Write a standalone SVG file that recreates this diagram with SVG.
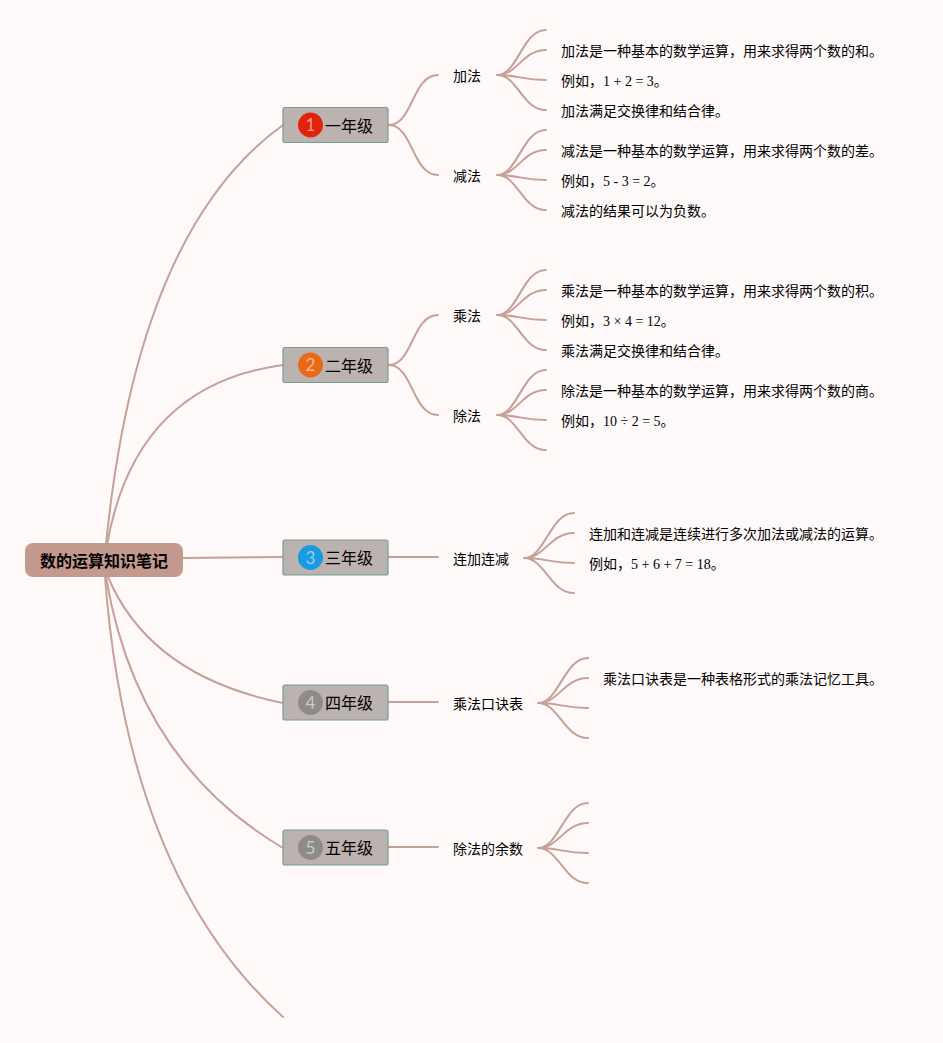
<svg xmlns="http://www.w3.org/2000/svg" width="943" height="1043" viewBox="0 0 943 1043">
<style>
text{font-family:"Liberation Serif","Noto Sans CJK SC",sans-serif;fill:#000}
.t{font-size:14px}
.y{font-size:16px}
.r{font-size:16px;font-weight:700}
.n{font-family:"Lato","Noto Sans",sans-serif;font-size:17px;fill:#fff;fill-opacity:.55;text-anchor:middle}
.b{fill:#bcb2b0;stroke:#6fa096;stroke-width:1.2}
#connectors path{fill:none;stroke:#c6a197;stroke-width:2;stroke-linecap:round}
</style>
<rect width="943" height="1043" fill="#fff9f9"/>
<g id="connectors">
<path d="M106,545Q137,230 283,125"/>
<path d="M107,545Q135,385 283,365"/>
<path d="M183,558L283,557"/>
<path d="M108,577Q150,676 283,703"/>
<path d="M106,577Q137,762 283,848"/>
<path d="M105,577Q128,878 283,1017"/>
<path d="M389,125C413,125 412,75 438,75"/>
<path d="M389,125C413,125 412,175 438,175"/>
<path d="M389,365C413,365 412,315 438,315"/>
<path d="M389,365C413,365 412,415 438,415"/>
<path d="M389,557H438"/>
<path d="M389,702H438"/>
<path d="M389,847H438"/>
<path d="M497,75C518,75 522,30 546,30M497,75C518,75 522,50 546,50M497,75C518,75 522,80 546,80M497,75C518,75 522,110 546,110"/>
<path d="M497,175C518,175 522,130 546,130M497,175C518,175 522,150 546,150M497,175C518,175 522,180 546,180M497,175C518,175 522,210 546,210"/>
<path d="M497,315C518,315 522,270 546,270M497,315C518,315 522,290 546,290M497,315C518,315 522,320 546,320M497,315C518,315 522,350 546,350"/>
<path d="M497,415C518,415 522,370 546,370M497,415C518,415 522,390 546,390M497,415C518,415 522,420 546,420M497,415C518,415 522,450 546,450"/>
<path d="M524,558C545,558 550,513 574,513M524,558C545,558 550,533 574,533M524,558C545,558 550,563 574,563M524,558C545,558 550,593 574,593"/>
<path d="M538,703C559,703 564,658 588,658M538,703C559,703 564,678 588,678M538,703C559,703 564,708 588,708M538,703C559,703 564,738 588,738"/>
<path d="M538,848C559,848 564,803 588,803M538,848C559,848 564,823 588,823M538,848C559,848 564,853 588,853M538,848C559,848 564,883 588,883"/>
</g>
<g id="root"><rect x="25" y="543" width="158" height="34" rx="8" fill="#c49a8e"/><text class="r" x="40" y="567">数的运算知识笔记</text></g>
<g id="g1"><rect class="b" x="283" y="107.500" width="105" height="35" rx="2"/><circle cx="310.500" cy="125" r="12.500" fill="#e2230b"/><text class="n" x="310.500" y="131">1</text><text class="y" x="325" y="132">一年级</text></g>
<g id="g2"><rect class="b" x="283" y="347.500" width="105" height="35" rx="2"/><circle cx="310.500" cy="365" r="12.500" fill="#e96a14"/><text class="n" x="310.500" y="371">2</text><text class="y" x="325" y="372">二年级</text></g>
<g id="g3"><rect class="b" x="283" y="540" width="105" height="35" rx="2"/><circle cx="310.500" cy="557.500" r="12.500" fill="#189be0"/><text class="n" x="310.500" y="563.500">3</text><text class="y" x="325" y="564">三年级</text></g>
<g id="g4"><rect class="b" x="283" y="685" width="105" height="35" rx="2"/><circle cx="310.500" cy="702.500" r="12.500" fill="#8e8c8b"/><text class="n" x="310.500" y="708.500">4</text><text class="y" x="325" y="709">四年级</text></g>
<g id="g5"><rect class="b" x="283" y="830" width="105" height="35" rx="2"/><circle cx="310.500" cy="847.500" r="12.500" fill="#8e8c8b"/><text class="n" x="310.500" y="853.500">5</text><text class="y" x="325" y="854">五年级</text></g>
<g id="add"><text class="t" x="453" y="81">加法</text><text class="t" x="561" y="56">加法是一种基本的数学运算，用来求得两个数的和。</text><text class="t" x="561" y="86">例如，1 + 2 = 3。</text><text class="t" x="561" y="116">加法满足交换律和结合律。</text></g>
<g id="sub"><text class="t" x="453" y="181">减法</text><text class="t" x="561" y="156">减法是一种基本的数学运算，用来求得两个数的差。</text><text class="t" x="561" y="186">例如，5 - 3 = 2。</text><text class="t" x="561" y="216">减法的结果可以为负数。</text></g>
<g id="mul"><text class="t" x="453" y="321">乘法</text><text class="t" x="561" y="296">乘法是一种基本的数学运算，用来求得两个数的积。</text><text class="t" x="561" y="326">例如，3 × 4 = 12。</text><text class="t" x="561" y="356">乘法满足交换律和结合律。</text></g>
<g id="div"><text class="t" x="453" y="421">除法</text><text class="t" x="561" y="396">除法是一种基本的数学运算，用来求得两个数的商。</text><text class="t" x="561" y="426">例如，10 ÷ 2 = 5。</text></g>
<g id="chain"><text class="t" x="453" y="564">连加连减</text><text class="t" x="589" y="539">连加和连减是连续进行多次加法或减法的运算。</text><text class="t" x="589" y="569">例如，5 + 6 + 7 = 18。</text></g>
<g id="table"><text class="t" x="453" y="708.500">乘法口诀表</text><text class="t" x="603" y="684">乘法口诀表是一种表格形式的乘法记忆工具。</text></g>
<g id="rem"><text class="t" x="453" y="853.500">除法的余数</text></g>
</svg>
